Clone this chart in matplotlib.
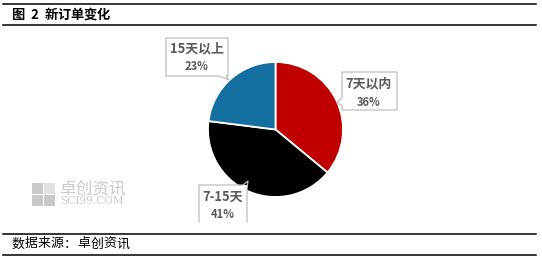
import matplotlib
matplotlib.use("Agg")
import matplotlib.pyplot as plt
from matplotlib.patches import Polygon, Rectangle
from matplotlib.lines import Line2D

plt.rcParams['font.family'] = ['Noto Sans CJK SC', 'DejaVu Sans']

# Data
categories = ["7天以内", "7-15天", "15天以上"]
shares = [36, 41, 23]
colors = ["#C00000", "#000000", "#136FA0"]
title = "图 2 新订单变化"
source = "数据来源：卓创资讯"

W, H = 542, 258
fig = plt.figure(figsize=(W / 100, H / 100), dpi=100)

# Pie axes (pixel layout converted to figure fractions)
cx, cy, r = 275.5, 129.5, 67.5
pie_ax = fig.add_axes([(cx - r) / W, (H - cy - r) / H, 2 * r / W, 2 * r / H])
pie_ax.pie(shares, colors=colors, startangle=90, counterclock=False,
           wedgeprops=dict(edgecolor="white", linewidth=1.3))
pie_ax.set_xlim(-1, 1)
pie_ax.set_ylim(-1, 1)
pie_ax.set_aspect("auto")
pie_ax.axis("off")

# Overlay axes in pixel coordinates for frame lines, callouts and text
ov = fig.add_axes([0, 0, 1, 1], zorder=5)
ov.set_xlim(0, W)
ov.set_ylim(H, 0)
ov.axis("off")
ov.patch.set_alpha(0)

for y in (4.3, 24.7, 234.3, 255.0):
    ov.add_line(Line2D([3, 536], [y, y], color="black", lw=1.1))

# Title and source line, with per-character spacing
def spaced(text, x0, y, step, **kw):
    x = x0
    for ch in text:
        if ch == " ":
            x += step * 0.45
            continue
        ov.text(x, y, ch, ha="left", va="center", **kw)
        x += step * (0.62 if ch.isascii() else 1.0)

spaced(title, 11, 15, 13.2, fontsize=9.5, fontweight="bold", color="black")
spaced(source, 11, 244, 13.2, fontsize=9.3, color="black")

# Watermark
wm = "#C9C9C9"
for (x, y) in [(32, 183), (44, 183), (32, 195), (44, 195)]:
    ov.add_patch(Rectangle((x, y), 11, 11,
                           facecolor=wm if (x, y) != (44, 183) else "#E0E0E0",
                           edgecolor="none"))
ov.text(92.5, 188.5, "卓创资讯", fontsize=12, color=wm, ha="center", va="center",
        fontweight="medium")
ov.text(92, 201, "SCI99.COM", fontsize=7.6, color=wm, ha="center", va="center",
        family="DejaVu Serif")

edge = "#BFBFBF"
txt = "#595959"


def callout(points, closed=True):
    ov.add_patch(Polygon(points, closed=closed, facecolor="white",
                         edgecolor=edge, lw=0.9, zorder=6))


# 15天以上 box with pointer on its bottom edge
callout([(166, 38), (228, 38), (228, 76), (226, 76), (229, 80),
         (219, 76), (166, 76)])
# 7天以内 box with pointer on its left edge
callout([(342, 72), (397, 72), (397, 110), (342, 110), (342, 106),
         (337, 102), (342, 98)])
# 7-15天 box, clipped at the bottom by the plot area
ov.add_patch(Rectangle((199, 185), 48, 40, facecolor="white", edgecolor="none", zorder=6))
ov.add_line(Line2D([199, 199, 243, 248, 247, 247], [222, 185, 185, 181, 189, 222],
                   color=edge, lw=0.9, zorder=7))

label_pos = {"7天以内": (369, 83, 102), "7-15天": (223, 197, 214),
             "15天以上": (197, 48.5, 66)}
for name, val in zip(categories, shares):
    x, y1, y2 = label_pos[name]
    ov.text(x, y1, name, fontsize=9.3, fontweight="bold", color=txt,
            ha="center", va="center", zorder=8)
    ov.text(x, y2, f"{val}%", fontsize=8, fontweight="bold", color=txt,
            ha="center", va="center", zorder=8)

fig.savefig("out.png", dpi=100)
